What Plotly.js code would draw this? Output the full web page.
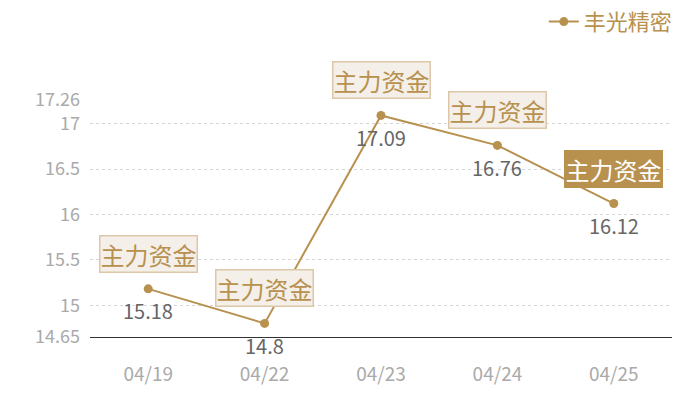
<!DOCTYPE html>
<html>
<head>
<meta charset="utf-8">
<script src="https://cdn.plot.ly/plotly-3.0.1.min.js"></script>
<style>
  html, body { margin: 0; padding: 0; background: #fff; }
  #chart { width: 700px; height: 400px; }
</style>
</head>
<body>
<div id="chart"></div>
<script>
var dates = ['04/19', '04/22', '04/23', '04/24', '04/25'];
var prices = [15.18, 14.8, 17.09, 16.76, 16.12];
var tagText = '主力资金';
var seriesName = '丰光精密';
var yTicks = [14.65, 15, 15.5, 16, 16.5, 17, 17.26];
var yTickText = ['14.65', '15', '15.5', '16', '16.5', '17', '17.26'];

var gold = '#b8914f';
var font = '"Noto Sans CJK SC", "Noto Sans", sans-serif';

var trace1 = {
  x: dates,
  y: prices,
  type: 'scatter',
  mode: 'lines+markers',
  name: seriesName,
  line: { color: gold, width: 2 },
  marker: { color: gold, size: 9 },
  cliponaxis: false
};

var annotations = [];
for (var i = 0; i < dates.length; i++) {
  var last = (i == dates.length - 1);
  // tag box above the point
  annotations.push({
    x: dates[i], y: prices[i], xref: 'x', yref: 'y',
    text: tagText, showarrow: false, yshift: 35,
    font: { family: font, size: 24, color: last ? '#ffffff' : gold },
    bgcolor: last ? gold : '#f4efe8',
    bordercolor: last ? gold : '#dcc8a8',
    borderwidth: 1.5, borderpad: 0
  });
  // value below the point
  annotations.push({
    x: dates[i], y: prices[i], xref: 'x', yref: 'y',
    text: String(prices[i]), showarrow: false, yshift: -22,
    font: { family: font, size: 20, color: '#666666' }
  });
}

var layout = {
  width: 700,
  height: 400,
  margin: { l: 90, r: 28, t: 100, b: 63, autoexpand: false },
  paper_bgcolor: '#ffffff',
  plot_bgcolor: '#ffffff',
  font: { family: font },
  showlegend: true,
  legend: {
    orientation: 'h',
    x: 1.01, xanchor: 'right',
    y: 1.33, yanchor: 'middle',
    font: { family: font, size: 22, color: gold }
  },
  xaxis: {
    type: 'category',
    range: [-0.5, 4.5],
    showgrid: false,
    showline: true,
    linecolor: '#333333',
    linewidth: 1,
    ticks: '',
    tickfont: { family: font, size: 19, color: '#aaaaaa' },
    ticklabelstandoff: 20
  },
  yaxis: {
    range: [14.65, 17.26],
    tickvals: yTicks,
    ticktext: yTickText,
    showgrid: true,
    gridcolor: '#d6d6d6',
    griddash: 'dot',
    gridwidth: 1,
    zeroline: false,
    showline: false,
    ticks: '',
    tickfont: { family: font, size: 18, color: '#aaaaaa' },
    ticklabelstandoff: 9
  },
  annotations: annotations
};

Plotly.newPlot('chart', [trace1], layout, { displayModeBar: false, staticPlot: true });
</script>
</body>
</html>
